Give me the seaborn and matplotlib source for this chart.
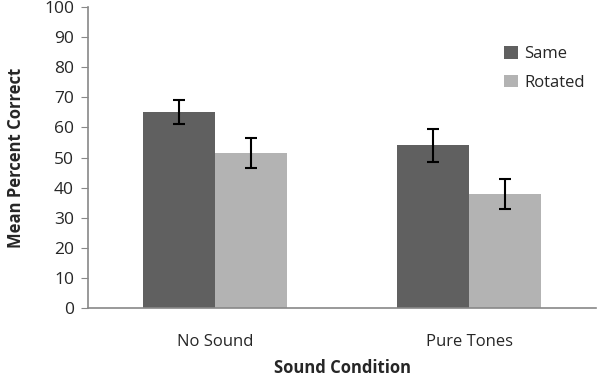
import matplotlib
matplotlib.use("Agg")
import matplotlib.pyplot as plt
import seaborn as sns
import pandas as pd
import numpy as np

conditions = ["No Sound", "Pure Tones"]
orientations = ["Same", "Rotated"]
same_means = [65, 54]
rotated_means = [51.5, 38]
same_err = [4, 5.5]
rotated_err = [5, 5]

sns.set_style("white")
plt.rcParams['font.family'] = ['Open Sans', 'DejaVu Sans']

df = pd.DataFrame({
    "Sound Condition": conditions * 2,
    "Orientation": ["Same"] * 2 + ["Rotated"] * 2,
    "Mean": same_means + rotated_means,
})
errs = {"Same": same_err, "Rotated": rotated_err}

fig = plt.figure(figsize=(6.04, 3.86), dpi=100)
ax = fig.add_axes([88/604, 1 - 308/386, (596-88)/604, (308-7)/386])

palette = {"Same": "#606060", "Rotated": "#b3b3b3"}
sns.barplot(data=df, x="Sound Condition", y="Mean", hue="Orientation",
            hue_order=orientations, order=conditions, palette=palette,
            width=0.57, errorbar=None, saturation=1, ax=ax, linewidth=0)

for cont, name in zip(ax.containers, orientations):
    xs = [p.get_x() + p.get_width() / 2 for p in cont.patches]
    ys = [p.get_height() for p in cont.patches]
    ax.errorbar(xs, ys, yerr=errs[name], fmt="none", ecolor="black",
                elinewidth=1.5, capsize=4.5, capthick=1.5)

ax.set_ylim(0, 100)
ax.set_xlim(-0.5, 1.5)
ax.set_yticks(np.arange(0, 101, 10))
ax.tick_params(axis="y", labelsize=12.5, length=5, color="#888888", left=True, direction="out", pad=5)
ax.tick_params(axis="x", labelsize=12, length=0, pad=19)
for side in ["top", "right"]:
    ax.spines[side].set_visible(False)
for side in ["left", "bottom"]:
    ax.spines[side].set_color("#888888")
    ax.spines[side].set_linewidth(1.2)

ax.set_ylabel("Mean Percent Correct", fontsize=12, fontweight="bold", labelpad=14)
ax.set_xlabel("Sound Condition", fontsize=12, fontweight="bold", labelpad=6)

leg = ax.legend(loc="upper left", bbox_to_anchor=(0.79, 0.92), frameon=False,
                fontsize=12, handlelength=0.8, handleheight=0.8,
                handletextpad=0.4, labelspacing=0.75)

fig.savefig("out.png", dpi=100)
